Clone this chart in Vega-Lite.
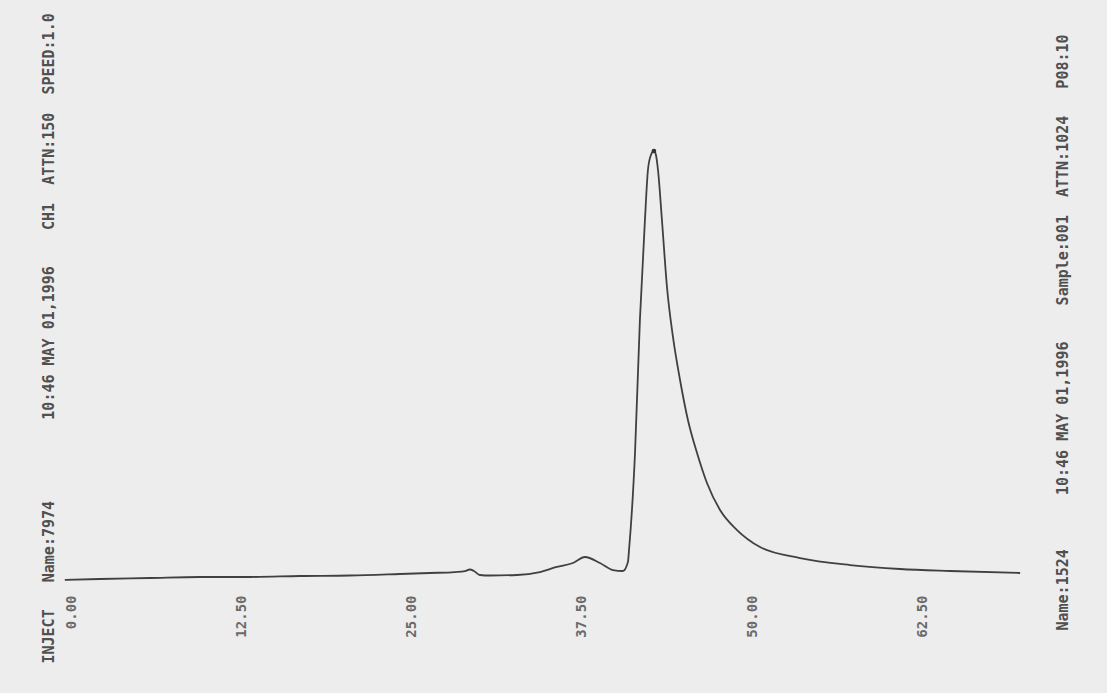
{
  "$schema": "https://vega.github.io/schema/vega-lite/v6.json",
  "autosize": {"type": "none"},
  "padding": {"left": 65, "top": 30, "right": 87, "bottom": 103},
  "width": 955,
  "height": 560,
  "background": "#ededed",
  "config": {"view": {"stroke": null}},
  "data": {"values": [
    {"time": -0.51, "signal": 1.79},
    {"time": 2.06, "signal": 1.96},
    {"time": 5.74, "signal": 2.14},
    {"time": 9.41, "signal": 2.32},
    {"time": 13.09, "signal": 2.32},
    {"time": 16.76, "signal": 2.5},
    {"time": 20.44, "signal": 2.59},
    {"time": 24.12, "signal": 2.86},
    {"time": 26.32, "signal": 3.04},
    {"time": 28.16, "signal": 3.21},
    {"time": 28.9, "signal": 3.39},
    {"time": 29.26, "signal": 3.66},
    {"time": 29.56, "signal": 3.39},
    {"time": 30.0, "signal": 2.68},
    {"time": 30.74, "signal": 2.59},
    {"time": 32.72, "signal": 2.68},
    {"time": 34.41, "signal": 3.21},
    {"time": 35.66, "signal": 4.11},
    {"time": 36.84, "signal": 4.82},
    {"time": 37.72, "signal": 5.89},
    {"time": 38.82, "signal": 4.82},
    {"time": 39.78, "signal": 3.57},
    {"time": 40.51, "signal": 3.39},
    {"time": 40.88, "signal": 5.0},
    {"time": 40.96, "signal": 7.14},
    {"time": 41.4, "signal": 24.46},
    {"time": 41.76, "signal": 48.21},
    {"time": 42.13, "signal": 66.07},
    {"time": 42.35, "signal": 75.0},
    {"time": 42.57, "signal": 77.68},
    {"time": 42.79, "signal": 78.39},
    {"time": 42.94, "signal": 77.68},
    {"time": 43.09, "signal": 75.0},
    {"time": 43.38, "signal": 66.07},
    {"time": 43.75, "signal": 54.11},
    {"time": 44.19, "signal": 45.18},
    {"time": 44.71, "signal": 37.5},
    {"time": 45.29, "signal": 30.36},
    {"time": 45.96, "signal": 24.46},
    {"time": 46.69, "signal": 19.11},
    {"time": 47.65, "signal": 14.29},
    {"time": 48.9, "signal": 10.71},
    {"time": 50.59, "signal": 7.68},
    {"time": 53.53, "signal": 5.71},
    {"time": 57.21, "signal": 4.46},
    {"time": 60.88, "signal": 3.75},
    {"time": 64.56, "signal": 3.39},
    {"time": 69.71, "signal": 3.04}
  ]},
  "encoding": {
    "x": {
      "field": "time", "type": "quantitative",
      "scale": {"domain": [-0.5, 69.7], "nice": false, "zero": false},
      "axis": {
        "values": [0, 12.5, 25, 37.5, 50, 62.5],
        "format": ".2f",
        "labelAngle": 270,
        "labelFont": "DejaVu Sans Mono",
        "labelFontSize": 14,
        "labelFontWeight": "bold",
        "labelColor": "#6a6a6a",
        "labelPadding": 5,
        "labelFlush": false,
        "labelOverlap": false,
        "ticks": false,
        "domain": false,
        "grid": false,
        "title": null
      }
    },
    "y": {
      "field": "signal", "type": "quantitative",
      "scale": {"domain": [0, 100], "nice": false}
    }
  },
  "layer": [
    {
      "mark": {"type": "line", "color": "#404040", "strokeWidth": 1.8, "interpolate": "monotone"},
      "encoding": {
        "y": {
          "field": "signal", "type": "quantitative",
          "axis": {
            "orient": "left",
            "labels": false, "ticks": false, "domain": false, "grid": false,
            "title": "INJECT\u00a0\u00a0\u00a0Name:7974\u00a0\u00a0\u00a0\u00a0\u00a0\u00a0\u00a0\u00a0\u00a010:46\u00a0MAY\u00a001,1996\u00a0\u00a0\u00a0\u00a0CH1\u00a0\u00a0ATTN:150\u00a0\u00a0SPEED:1.0",
            "titleFont": "DejaVu Sans Mono",
            "titleFontSize": 15,
            "titleFontWeight": "bold",
            "titleColor": "#505050",
            "titleAngle": 270,
            "titleAlign": "left",
            "titleBaseline": "middle",
            "titleX": -17,
            "titleY": 633
          }
        }
      }
    },
    {
      "transform": [{"filter": "datum.signal >= 78"}],
      "mark": {"type": "point", "filled": true, "color": "#333333", "size": 22, "opacity": 1},
      "encoding": {
        "y": {
          "field": "signal", "type": "quantitative",
          "axis": {
            "orient": "right",
            "labels": false, "ticks": false, "domain": false, "grid": false,
            "title": "Name:1524\u00a0\u00a0\u00a0\u00a0\u00a0\u00a010:46\u00a0MAY\u00a001,1996\u00a0\u00a0\u00a0\u00a0Sample:001\u00a0\u00a0ATTN:1024\u00a0\u00a0\u00a0P08:10",
            "titleFont": "DejaVu Sans Mono",
            "titleFontSize": 15,
            "titleFontWeight": "bold",
            "titleColor": "#505050",
            "titleAngle": 270,
            "titleAlign": "left",
            "titleBaseline": "middle",
            "titleX": 42,
            "titleY": 600
          }
        }
      }
    }
  ],
  "resolve": {"axis": {"y": "independent"}}
}
